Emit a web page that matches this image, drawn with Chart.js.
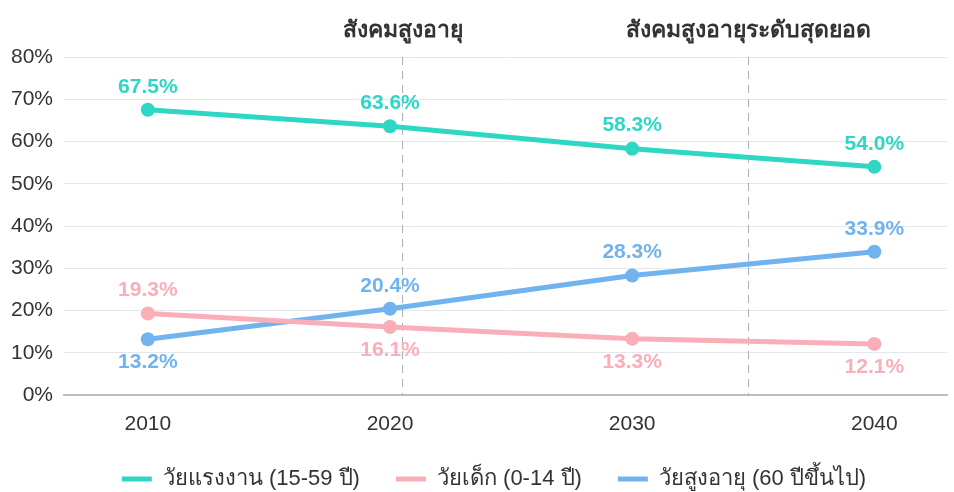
<!DOCTYPE html>
<html>
<head>
<meta charset="utf-8">
<script src="https://cdn.jsdelivr.net/npm/chart.js@4"></script>
<style>
  html, body { margin: 0; padding: 0; background: #fff; }
  #wrap { width: 954px; height: 492px; }
</style>
</head>
<body>
<div id="wrap"><canvas id="chart"></canvas></div>
<script>
const years = [2010, 2020, 2030, 2040];
const workingAge = [67.5, 63.6, 58.3, 54.0];
const children = [19.3, 16.1, 13.3, 12.1];
const elderly = [13.2, 20.4, 28.3, 33.9];
const seriesNames = ['วัยแรงงาน (15-59 ปี)', 'วัยเด็ก (0-14 ปี)', 'วัยสูงอายุ (60 ปีขึ้นไป)'];
const milestoneYears = [2020.5, 2034.8];
const milestoneNames = ['สังคมสูงอายุ', 'สังคมสูงอายุระดับสุดยอด'];
// label above (1) or below (-1) each point
const labelSide = [
  [1, 1, 1, 1],
  [1, -1, -1, -1],
  [-1, 1, 1, 1]
];

const colors = ['#2dd7c4', '#f9aeb8', '#70b3ee'];
const FONT = '"Liberation Sans", Arial, "Noto Sans", sans-serif';

function toPoints(arr) {
  return arr.map((v, i) => ({ x: years[i], y: v }));
}

// point value labels
const valueLabels = {
  id: 'valueLabels',
  afterDatasetsDraw(chart) {
    const ctx = chart.ctx;
    ctx.save();
    ctx.font = 'bold 21px ' + FONT;
    ctx.textAlign = 'center';
    ctx.textBaseline = 'middle';
    chart.data.datasets.forEach((ds, di) => {
      const meta = chart.getDatasetMeta(di);
      meta.data.forEach((pt, i) => {
        ctx.fillStyle = colors[di];
        const off = labelSide[di][i] * 23;
        ctx.fillText(ds.data[i].y.toFixed(1) + '%', pt.x, pt.y - off);
      });
    });
    ctx.restore();
  }
};

// dashed milestone lines with titles
const milestones = {
  id: 'milestones',
  beforeDatasetsDraw(chart) {
    const { ctx, chartArea, scales } = chart;
    ctx.save();
    milestoneYears.forEach((yr, i) => {
      const x = Math.round(scales.x.getPixelForValue(yr)) + 0.5;
      ctx.strokeStyle = '#a7b0be';
      ctx.lineWidth = 1;
      ctx.setLineDash([8, 6]);
      ctx.beginPath();
      ctx.moveTo(x, chartArea.top);
      ctx.lineTo(x, chartArea.bottom);
      ctx.stroke();
      ctx.setLineDash([]);
      ctx.fillStyle = '#333';
      ctx.font = 'bold 23px ' + FONT;
      ctx.textAlign = 'center';
      ctx.textBaseline = 'alphabetic';
      ctx.fillText(milestoneNames[i], x, chartArea.top - 20);
    });
    ctx.restore();
  }
};

// legend: wide gaps between items but a tighter box, nudged into place
const legendTweak = {
  id: 'legendTweak',
  afterInit(chart) {
    const lg = chart.legend;
    const fit = lg.fit;
    lg.fit = function () {
      fit.call(this);
      this.height -= 14;
    };
    const draw = lg.draw;
    lg.draw = function () {
      const top = this.top, left = this.left;
      this.top = top - 5;     // items a bit higher
      this.left = left + 34;  // centre moves 17px right
      draw.apply(this, arguments);
      this.top = top;
      this.left = left;
    };
  }
};

new Chart(document.getElementById('chart'), {
  type: 'line',
  data: {
    datasets: [workingAge, children, elderly].map((arr, i) => ({
      label: seriesNames[i],
      data: toPoints(arr),
      borderColor: colors[i],
      backgroundColor: colors[i],
      borderWidth: 5,
      pointRadius: 7,
      pointBackgroundColor: colors[i],
      pointBorderWidth: 0,
      tension: 0
    }))
  },
  options: {
    responsive: true,
    maintainAspectRatio: false,
    animation: false,
    layout: { padding: { top: 57, right: 0, left: 0, bottom: 1 } },
    plugins: {
      legend: {
        position: 'bottom',
        labels: {
          font: { family: FONT, size: 22 },
          color: '#333',
          boxWidth: 30,
          boxHeight: 5,
          padding: 36,
          generateLabels(chart) {
            return chart.data.datasets.map((ds, i) => ({
              text: ds.label,
              fillStyle: colors[i],
              strokeStyle: colors[i],
              lineWidth: 0,
              fontColor: '#333',
              datasetIndex: i
            }));
          }
        }
      },
      tooltip: { enabled: false }
    },
    scales: {
      x: {
        type: 'linear',
        min: 2006.54,
        max: 2043.0,
        afterBuildTicks(axis) {
          axis.ticks = years.map(v => ({ value: v }));
        },
        afterFit(axis) {
          axis.height = 42;
        },
        grid: { display: false, drawTicks: false },
        border: { color: '#bdbdbd', width: 2 },
        ticks: {
          color: '#333',
          font: { family: FONT, size: 21 },
          padding: 17,
          callback: v => String(v)
        }
      },
      y: {
        min: 0,
        max: 80,
        ticks: {
          stepSize: 10,
          color: '#333',
          font: { family: FONT, size: 21 },
          padding: 11,
          callback: v => v + '%'
        },
        grid: { color: '#e4e7eb', drawTicks: false },
        border: { display: false }
      }
    }
  },
  plugins: [milestones, valueLabels, legendTweak]
});
</script>
</body>
</html>
